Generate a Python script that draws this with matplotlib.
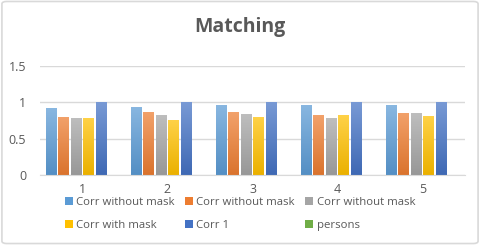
import matplotlib
matplotlib.use("Agg")
import matplotlib.pyplot as plt
from matplotlib.patches import FancyBboxPatch
from matplotlib.colors import to_rgb
import numpy as np

categories = ["1", "2", "3", "4", "5"]
series_names = ["Corr without mask", "Corr without mask", "Corr without mask",
                "Corr with mask", "Corr 1", "persons"]
s1 = [0.92, 0.94, 0.965, 0.97, 0.96]
s2 = [0.80, 0.87, 0.865, 0.825, 0.86]
s3 = [0.79, 0.83, 0.84, 0.78, 0.86]
s4 = [0.79, 0.76, 0.80, 0.825, 0.815]
s5 = [1.0, 1.0, 1.0, 1.0, 1.0]
s6 = [0.0, 0.0, 0.0, 0.0, 0.0]
colors = ["#5B9BD5", "#ED7D31", "#A5A5A5", "#FFC000", "#4472C4", "#70AD47"]

txt = "#595959"
plt.rcParams['font.family'] = ['Open Sans', 'DejaVu Sans']

fig = plt.figure(figsize=(4.8, 2.45), dpi=100)
fig.patches.append(FancyBboxPatch((0.004, 0.006), 0.992, 0.988,
                                  boxstyle="round,pad=0,rounding_size=0.01",
                                  transform=fig.transFigure, fc="white",
                                  ec="#D9D9D9", lw=1.2, zorder=-1))
ax = fig.add_axes([40/480, 1-175/245, 425/480, 109/245])
ax.set_facecolor("none")

data = [s1, s2, s3, s4, s5, s6]
x = np.arange(len(categories))
n = len(data)
group_w = 75/85
bw = group_w / n
handles = []
for i, (vals, c, name) in enumerate(zip(data, colors, series_names)):
    pos = x - group_w/2 + bw*(i+0.5)
    h = ax.bar(pos, vals, width=bw*0.86, color=c, label=name, zorder=2)
    handles.append(h)
    base = np.array(to_rgb(c))
    light = base + (1 - base) * 0.28
    dark = base * 0.92
    grad = np.linspace(0, 1, 64)[:, None, None]
    img = dark[None, None, :] * (1 - grad) + light[None, None, :] * grad
    for p in h.patches:
        if p.get_height() <= 0:
            continue
        x0, y0 = p.get_x(), p.get_y()
        im = ax.imshow(img, extent=[x0, x0 + p.get_width(), y0, y0 + p.get_height()],
                       origin="lower", aspect="auto", zorder=2.5, interpolation="bilinear")
        im.set_clip_path(p)

ax.set_xlim(-0.5, len(categories)-0.5)
ax.set_ylim(0, 1.5)
ax.set_yticks([0, 0.5, 1, 1.5])
ax.set_yticklabels(["0", "0.5", "1", "1.5"])
ax.set_xticks(x)
ax.set_xticklabels(categories)
ax.grid(axis="y", color="#D9D9D9", lw=1, zorder=0)
for sp in ["top", "right", "left"]:
    ax.spines[sp].set_visible(False)
ax.spines["bottom"].set_color("#D9D9D9")
ax.tick_params(axis="both", length=0, colors=txt, labelsize=9)
ax.tick_params(axis="y", pad=10)
ax.tick_params(axis="x", pad=6)

fig.text(0.5, 1-27/245, "Matching", ha="center", va="center",
         fontsize=14, fontweight="bold", color=txt)

order = [0, 3, 1, 4, 2, 5]
leg = fig.legend([handles[i] for i in order], [series_names[i] for i in order],
                 ncol=3, loc="center", bbox_to_anchor=(0.5, 1-214/245),
                 frameon=False, fontsize=8.2, handlelength=0.7, handleheight=0.7,
                 handletextpad=0.3, columnspacing=0.9, labelspacing=1.05,
                 labelcolor=txt)

fig.savefig("out.png", dpi=100)
